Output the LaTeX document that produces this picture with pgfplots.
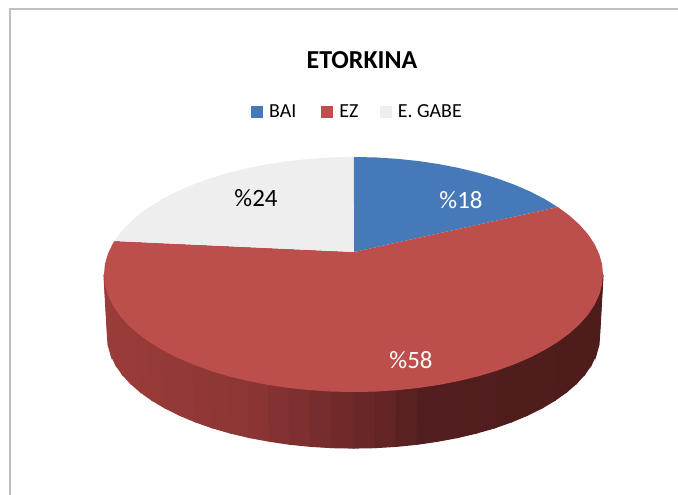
\documentclass[border=0pt]{standalone}
\usepackage{pgfplots}
\pgfplotsset{compat=1.18}
\usepackage{fontspec}
\setmainfont{Carlito}

\definecolor{bai}{HTML}{4679B8}
\definecolor{ez}{HTML}{BC4E4B}
\definecolor{gabe}{HTML}{EEEEEE}
\definecolor{framegray}{HTML}{BFBFBF}

% rim of the red slice: top and bottom edge at each step, left to right, shade in c
\pgfplotstableread{
x y c
104 274.5 0
107.5 336 0
104.9 284.7 0
108.4 345.8 0
107.8 294.9 .01
111.2 355.4 .01
112.5 304.9 .02
115.9 365 .02
119 314.7 .03
122.3 374.3 .03
127.4 324.2 .05
130.5 383.3 .05
137.4 333.3 .07
140.5 392 .07
149.1 341.9 .09
152 400.2 .09
162.4 350 .12
165.1 408 .12
177.1 357.6 .15
179.6 415.2 .15
193.1 364.5 .18
195.4 421.8 .18
210.4 370.8 .21
212.4 427.8 .21
228.7 376.3 .25
230.5 433 .25
248.1 381 .29
249.5 437.5 .29
268.2 384.9 .33
269.4 441.2 .33
288.9 388 .37
289.8 444.2 .37
310.2 390.2 .41
310.8 446.3 .41
331.7 391.6 .46
332 447.6 .46
353.5 392 .5
353.5 448 .5
375.3 391.6 .54
375 447.6 .54
396.8 390.2 .59
396.2 446.3 .59
418.1 388 .63
417.2 444.2 .63
438.8 384.9 .67
437.6 441.2 .67
458.9 381 .71
457.5 437.5 .71
478.3 376.3 .75
476.5 433 .75
496.6 370.8 .79
494.6 427.8 .79
513.9 364.5 .82
511.6 421.8 .82
529.9 357.6 .85
527.4 415.2 .85
544.6 350 .88
541.9 408 .88
557.9 341.9 .91
555 400.2 .91
569.6 333.3 .93
566.5 392 .93
579.6 324.2 .95
576.5 383.3 .95
588 314.7 .97
584.7 374.3 .97
594.5 304.9 .98
591.1 365 .98
599.2 294.9 .99
595.8 355.4 .99
602.1 284.7 1
598.6 345.8 1
603 274.5 1
599.5 336 1
}\rimtable

\begin{document}
\begin{tikzpicture}
\path (0,0) rectangle (678bp,495bp);
\begin{axis}[
  at={(0,0)}, anchor=south west,
  scale only axis, width=678bp, height=495bp,
  xmin=0, xmax=678, ymin=0, ymax=495, y dir=reverse,
  axis lines=none, clip=true,
  colormap={rim}{rgb255(0)=(155,60,58) rgb255(0.3)=(140,54,52) rgb255(0.44)=(118,44,45)
    rgb255(0.5)=(110,40,41) rgb255(0.65)=(82,30,31) rgb255(1)=(78,28,27)},
  point meta min=0, point meta max=1,
  legend columns=-1,
  legend style={at={(axis cs:251,112)}, anchor=west, draw=none, fill=none,
    font=\fontsize{20}{20}\selectfont, inner sep=0pt,
    /tikz/column 1/.style={column sep=4bp},
    /tikz/column 2/.style={column sep=23bp},
    /tikz/column 3/.style={column sep=4bp},
    /tikz/column 4/.style={column sep=19.5bp},
    /tikz/column 5/.style={column sep=4bp}},
  legend image code/.code={\fill[#1] (0bp,-6bp) rectangle (12bp,6bp);},
]
% side first, the top face lies over it; thick strokes hide the seams between strips
\addplot[surf, shader=flat, line width=1.2bp, mesh/rows=37, mesh/cols=2, point meta=explicit, forget plot]
  table[x=x, y=y, meta=c] {\rimtable};

\addplot[fill=bai, draw=none] coordinates {
  (354,252) (353.5,157) (375.3,157.4) (396.8,158.8) (418.1,161) (438.8,164.1)
  (458.9,168) (478.3,172.7) (496.6,178.2) (513.9,184.5) (529.9,191.4)
  (544.6,199) (557.9,207.1) (354,252)};
\addlegendentry{BAI}

\addplot[fill=ez, draw=none] coordinates {
  (354,252) (557.9,207.1) (569.6,215.7) (579.6,224.8) (588,234.3) (594.5,244.1)
  (599.2,254.1) (602.1,264.3) (603,274.5) (602.1,284.7) (599.2,294.9) (594.5,304.9)
  (588,314.7) (579.6,324.2) (569.6,333.3) (557.9,341.9) (544.6,350) (529.9,357.6)
  (513.9,364.5) (496.6,370.8) (478.3,376.3) (458.9,381) (438.8,384.9) (418.1,388)
  (396.8,390.2) (375.3,391.6) (353.5,392) (331.7,391.6) (310.2,390.2) (288.9,388)
  (268.2,384.9) (248.1,381) (228.7,376.3) (210.4,370.8) (193.1,364.5) (177.1,357.6)
  (162.4,350) (149.1,341.9) (137.4,333.3) (127.4,324.2) (119,314.7) (112.5,304.9)
  (107.8,294.9) (104.9,284.7) (104,274.5) (104.9,264.3) (107.8,254.1) (112.5,244.1)
  (114.5,241) (354,252)};
\addlegendentry{EZ}

\addplot[fill=gabe, draw=none] coordinates {
  (354,252) (114.5,241) (119,234.3) (127.4,224.8) (137.4,215.7) (149.1,207.1)
  (162.4,199) (177.1,191.4) (193.1,184.5) (210.4,178.2) (228.7,172.7) (248.1,168)
  (268.2,164.1) (288.9,161) (310.2,158.8) (331.7,157.4) (353.5,157) (354,252)};
\addlegendentry{E. GABE}

\node[font=\fontsize{26}{26}\selectfont\bfseries] at (axis cs:362,60) {ETORKINA};
\node[font=\fontsize{25}{25}\selectfont, text=white] at (axis cs:461,200) {\%18};
\node[font=\fontsize{25}{25}\selectfont, text=white] at (axis cs:411,360) {\%58};
\node[font=\fontsize{25}{25}\selectfont, text=black] at (axis cs:256,198) {\%24};

\draw[framegray, line width=1.5bp] (axis cs:10,495) -- (axis cs:10,9) -- (axis cs:678,9);
\end{axis}
\end{tikzpicture}
\end{document}
